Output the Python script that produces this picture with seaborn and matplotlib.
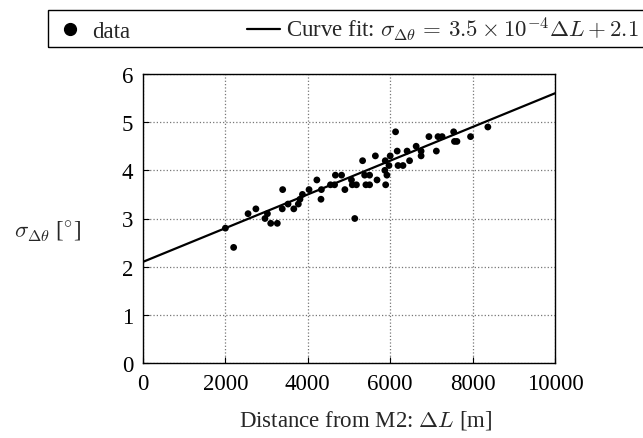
import matplotlib
matplotlib.use("Agg")
import matplotlib.pyplot as plt
import seaborn as sns
import pandas as pd
from matplotlib.lines import Line2D
from matplotlib.patches import Rectangle

# Data
dist_m = [2000, 2200, 2550, 2740, 2960, 3020, 3100, 3260, 3390, 3380,
          3520, 3660, 3770, 3810, 3870, 4030, 4220, 4330, 4320, 4550,
          4650, 4670, 4820, 4900, 5060, 5080, 5180, 5140, 5330, 5380,
          5410, 5500, 5500, 5640, 5680, 5870, 5880, 5890, 5920, 5970,
          6000, 6130, 6170, 6190, 6310, 6410, 6470, 6630, 6750, 6750,
          6940, 7120, 7160, 7260, 7540, 7560, 7620, 7950, 8370]
sigma_deg = [2.8, 2.4, 3.1, 3.2, 3.0, 3.1, 2.9, 2.9, 3.6, 3.2,
             3.3, 3.2, 3.3, 3.4, 3.5, 3.6, 3.8, 3.6, 3.4, 3.7,
             3.7, 3.9, 3.9, 3.6, 3.8, 3.7, 3.7, 3.0, 4.2, 3.9,
             3.7, 3.9, 3.7, 4.3, 3.8, 4.0, 4.2, 3.7, 3.9, 4.1,
             4.3, 4.8, 4.4, 4.1, 4.1, 4.4, 4.2, 4.5, 4.4, 4.3,
             4.7, 4.4, 4.7, 4.7, 4.8, 4.6, 4.6, 4.7, 4.9]

# Curve fit endpoints (sigma = 3.5e-4 * dL + 2.1)
fit_x = [0, 10000]
fit_y = [2.1, 5.6]

x_ticks = [0, 2000, 4000, 6000, 8000, 10000]
y_ticks = [0, 1, 2, 3, 4, 5, 6]

fit_label = r"Curve fit: $\sigma_{\Delta\theta}\,=\,3.5\times10^{-4}\Delta L+2.1$"

sns.set_style("ticks")
plt.rcParams['font.family'] = ['Liberation Serif', 'DejaVu Serif']
plt.rcParams['mathtext.fontset'] = 'cm'

df = pd.DataFrame({'dist': dist_m, 'sigma': sigma_deg})

fig, ax = plt.subplots(figsize=(6.43, 4.39), dpi=100)
fig.subplots_adjust(left=143/643, right=555/643, bottom=1-364/439, top=1-75/439)

sns.scatterplot(data=df, x='dist', y='sigma', ax=ax, color='black', s=24,
                edgecolor='none', zorder=3, legend=False)
sns.lineplot(x=fit_x, y=fit_y, ax=ax, color='black', linewidth=1.6, zorder=2,
             legend=False)

ax.set_xlim(0, 10000)
ax.set_ylim(0, 6)
ax.set_xticks(x_ticks)
ax.set_yticks(y_ticks)
ax.grid(True, linestyle=':', color='#777777', linewidth=0.9)
ax.set_axisbelow(True)
ax.tick_params(direction='in', length=4, width=0.8, labelsize=16.5, pad=7,
               colors='black')
for sp in ax.spines.values():
    sp.set_linewidth(1.0)
    sp.set_color('black')

ax.set_xlabel(r"Distance from M2: $\Delta L$ [m]", fontsize=16.5)
ax.xaxis.set_label_coords((366-143)/412, (364-421)/289)
ax.xaxis.label.set_va('center')
ax.set_ylabel(r"$\sigma_{\Delta\theta}$ [$^{\circ}$]", fontsize=16.5, rotation=0,
              ha='center', va='center')
ax.yaxis.set_label_coords((48-143)/412, (364-232)/289)

# legend box runs off the right edge as in the reference
fig.patches.append(Rectangle((48/643, 1-48/439), (660-48)/643, 37/439,
                             transform=fig.transFigure, fill=False,
                             edgecolor='black', linewidth=1.0))
handles = [Line2D([], [], color='black', marker='o', linestyle='none', markersize=8.5),
           Line2D([], [], color='black', linewidth=1.6)]
fig.legend(handles, ['data', fit_label], loc='center left',
           bbox_to_anchor=(53/643, 1-30/439), ncol=2, fontsize=16.5,
           frameon=False, handlelength=1.45, handletextpad=0.25,
           columnspacing=5.1, borderpad=0, borderaxespad=0)

fig.savefig('out.png', dpi=100)
